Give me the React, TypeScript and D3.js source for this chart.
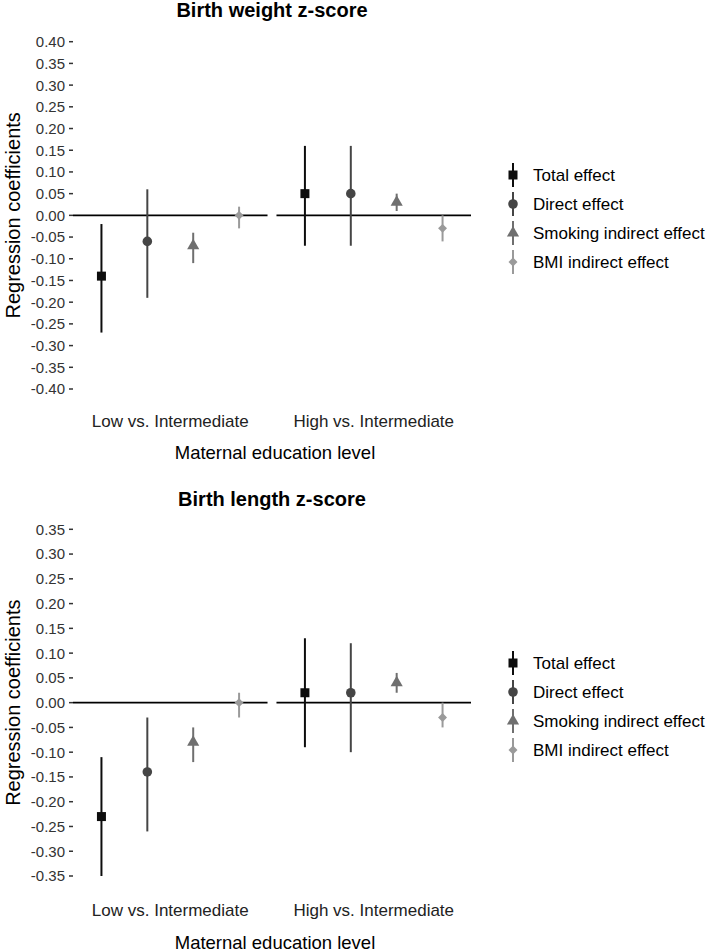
import * as d3 from 'd3';
import React from 'react';

const groups = ['Low vs. Intermediate', 'High vs. Intermediate'];
const series = ['Total effect', 'Direct effect', 'Smoking indirect effect', 'BMI indirect effect'];
const seriesColors = ['#0d0d0d', '#454545', '#6f6f6f', '#9a9a9a'];
const seriesShapes = ['square', 'circle', 'triangle', 'diamond'];

// Birth weight z-score: [low, high] per series
const weightEst = [[-0.14, 0.05], [-0.06, 0.05], [-0.07, 0.03], [0.0, -0.03]];
const weightLo = [[-0.27, -0.07], [-0.19, -0.07], [-0.11, 0.01], [-0.03, -0.06]];
const weightHi = [[-0.02, 0.16], [0.06, 0.16], [-0.04, 0.05], [0.02, 0.0]];
const weightTicks = [0.4, 0.35, 0.3, 0.25, 0.2, 0.15, 0.1, 0.05, 0, -0.05, -0.1, -0.15, -0.2, -0.25, -0.3, -0.35, -0.4];

// Birth length z-score
const lengthEst = [[-0.23, 0.02], [-0.14, 0.02], [-0.08, 0.04], [0.0, -0.03]];
const lengthLo = [[-0.35, -0.09], [-0.26, -0.1], [-0.12, 0.02], [-0.03, -0.05]];
const lengthHi = [[-0.11, 0.13], [-0.03, 0.12], [-0.05, 0.06], [0.02, 0.0]];
const lengthTicks = [0.35, 0.3, 0.25, 0.2, 0.15, 0.1, 0.05, 0, -0.05, -0.1, -0.15, -0.2, -0.25, -0.3, -0.35];

const FONT = '"Liberation Sans", Arial, Helvetica, sans-serif';

const symbolPath = (shape: string) => {
    if (shape === 'square') return d3.symbol(d3.symbolSquare, 81)();
    if (shape === 'circle') return d3.symbol(d3.symbolCircle, 72)();
    if (shape === 'triangle') return d3.symbol(d3.symbolTriangle, 64)();
    return d3.symbol(d3.symbolSquare, 40)();
};

const Marker = ({ shape, color, x, y }: any) => (
    <path
        d={symbolPath(shape) as string}
        fill={color}
        transform={`translate(${x},${y})${shape === 'diamond' ? ' rotate(45)' : ''}`}
    />
);

const fx = d3.scaleBand<string>().domain(groups).range([73, 471]).paddingInner(0.044);
const sx = d3.scalePoint<string>().domain(series).range([0, fx.bandwidth()]).padding(0.62);

interface PanelProps {
    title: string;
    titleY: number;
    domain: [number, number];
    yRange: [number, number];
    ticks: number[];
    est: number[][];
    lo: number[][];
    hi: number[][];
    catY: number;
    xTitleY: number;
    legendY: number;
}

const Panel = ({ title, titleY, domain, yRange, ticks, est, lo, hi, catY, xTitleY, legendY }: PanelProps) => {
    const y = d3.scaleLinear().domain(domain).range(yRange);
    const mid = (yRange[0] + yRange[1]) / 2;
    return (
        <g>
            <text x={272} y={titleY} textAnchor="middle" fontFamily={FONT} fontWeight="bold" fontSize={20}>
                {title}
            </text>
            <text
                transform={`translate(19.5,${mid}) rotate(-90)`}
                textAnchor="middle"
                fontFamily={FONT}
                fontSize={20}
                fill="#000"
            >
                Regression coefficients
            </text>
            {ticks.map((t) => (
                <g key={t}>
                    <text x={65} y={y(t)} dy="0.36em" textAnchor="end" fontFamily={FONT} fontSize={15} fill="#333">
                        {t.toFixed(2)}
                    </text>
                    <line x1={69} x2={73} y1={y(t)} y2={y(t)} stroke="#333" strokeWidth={1.5} />
                </g>
            ))}
            {groups.map((g, gi) => (
                <g key={g}>
                    <line
                        x1={fx(g)!}
                        x2={fx(g)! + fx.bandwidth()}
                        y1={y(0)}
                        y2={y(0)}
                        stroke="#000"
                        strokeWidth={1.6}
                    />
                    {series.map((s, si) => {
                        const cx = fx(g)! + sx(s)!;
                        return (
                            <g key={s}>
                                <line
                                    x1={cx}
                                    x2={cx}
                                    y1={y(lo[si][gi])}
                                    y2={y(hi[si][gi])}
                                    stroke={seriesColors[si]}
                                    strokeWidth={2}
                                />
                                <Marker shape={seriesShapes[si]} color={seriesColors[si]} x={cx} y={y(est[si][gi])} />
                            </g>
                        );
                    })}
                    <text
                        x={fx(g)! + fx.bandwidth() / 2}
                        y={catY}
                        textAnchor="middle"
                        fontFamily={FONT}
                        fontSize={17}
                        fill="#222"
                    >
                        {g}
                    </text>
                </g>
            ))}
            <text x={275} y={xTitleY} textAnchor="middle" fontFamily={FONT} fontSize={18.5}>
                Maternal education level
            </text>
            {series.map((s, si) => {
                const cy = legendY + si * 29;
                return (
                    <g key={s}>
                        <line x1={513} x2={513} y1={cy - 12} y2={cy + 12} stroke={seriesColors[si]} strokeWidth={2} />
                        <Marker shape={seriesShapes[si]} color={seriesColors[si]} x={513} y={cy} />
                        <text x={533} y={cy} dy="0.36em" fontFamily={FONT} fontSize={17} fill="#000">
                            {s}
                        </text>
                    </g>
                );
            })}
        </g>
    );
};

export default function App() {
    return (
        <svg
            width={709}
            height={952}
            style={{ position: 'absolute', left: 0, top: 0, background: '#fff' }}
        >
            <Panel
                title="Birth weight z-score"
                titleY={17}
                domain={[-0.4, 0.4]}
                yRange={[389, 41.7]}
                ticks={weightTicks}
                est={weightEst}
                lo={weightLo}
                hi={weightHi}
                catY={427}
                xTitleY={459}
                legendY={175}
            />
            <Panel
                title="Birth length z-score"
                titleY={506}
                domain={[-0.35, 0.35]}
                yRange={[876, 529.3]}
                ticks={lengthTicks}
                est={lengthEst}
                lo={lengthLo}
                hi={lengthHi}
                catY={916}
                xTitleY={949}
                legendY={663}
            />
        </svg>
    );
}
